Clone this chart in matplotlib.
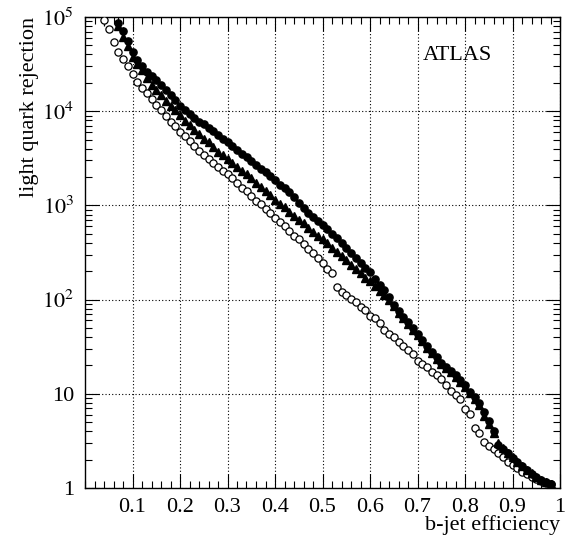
import matplotlib
matplotlib.use("Agg")
import numpy as np
import matplotlib.pyplot as plt
from matplotlib.ticker import FixedLocator, FixedFormatter, LogLocator, MultipleLocator, NullFormatter

plt.rcParams["font.family"] = ["Liberation Serif", "DejaVu Serif"]
plt.rcParams["mathtext.fontset"] = "stix"

# b-jet efficiency of each working point
eff_open = [0.04, 0.05, 0.06, 0.07, 0.08, 0.09, 0.10, 0.11, 0.12, 0.13, 0.14, 0.15, 0.16, 0.17,
            0.18, 0.19, 0.20, 0.21, 0.22, 0.23, 0.24, 0.25, 0.26, 0.27, 0.28, 0.29, 0.30, 0.31,
            0.32, 0.33, 0.34, 0.35, 0.36, 0.37, 0.38, 0.39, 0.40, 0.41, 0.42, 0.43, 0.44, 0.45,
            0.46, 0.47, 0.48, 0.49, 0.50, 0.51, 0.52, 0.53, 0.54, 0.55, 0.56, 0.57, 0.58, 0.59,
            0.60, 0.61, 0.62, 0.63, 0.64, 0.65, 0.66, 0.67, 0.68, 0.69, 0.70, 0.71, 0.72, 0.73,
            0.74, 0.75, 0.76, 0.77, 0.78, 0.79, 0.80, 0.81, 0.82, 0.83, 0.84, 0.85, 0.86, 0.87,
            0.88, 0.89, 0.90, 0.91, 0.92, 0.93, 0.94, 0.95, 0.96, 0.97, 0.98]
eff_fill = [0.07, 0.08, 0.09, 0.10, 0.11, 0.12, 0.13, 0.14, 0.15, 0.16, 0.17,
            0.18, 0.19, 0.20, 0.21, 0.22, 0.23, 0.24, 0.25, 0.26, 0.27, 0.28, 0.29, 0.30, 0.31,
            0.32, 0.33, 0.34, 0.35, 0.36, 0.37, 0.38, 0.39, 0.40, 0.41, 0.42, 0.43, 0.44, 0.45,
            0.46, 0.47, 0.48, 0.49, 0.50, 0.51, 0.52, 0.53, 0.54, 0.55, 0.56, 0.57, 0.58, 0.59,
            0.60, 0.61, 0.62, 0.63, 0.64, 0.65, 0.66, 0.67, 0.68, 0.69, 0.70, 0.71, 0.72, 0.73,
            0.74, 0.75, 0.76, 0.77, 0.78, 0.79, 0.80, 0.81, 0.82, 0.83, 0.84, 0.85, 0.86, 0.87,
            0.88, 0.89, 0.90, 0.91, 0.92, 0.93, 0.94, 0.95, 0.96, 0.97, 0.98]

# log10 of the light quark rejection for each tagger
log_rej_open = [4.97, 4.87, 4.73, 4.63, 4.55, 4.48, 4.40, 4.31, 4.25, 4.19, 4.13, 4.07, 4.01, 3.95,
                3.89, 3.84, 3.78, 3.74, 3.68, 3.63, 3.58, 3.54, 3.49, 3.45, 3.41, 3.37, 3.33, 3.29,
                3.24, 3.19, 3.15, 3.10, 3.05, 3.01, 2.96, 2.92, 2.87, 2.82, 2.78, 2.73, 2.68, 2.64,
                2.59, 2.54, 2.49, 2.44, 2.39, 2.33, 2.28, 2.13, 2.08, 2.05, 2.01, 1.97, 1.92, 1.89,
                1.83, 1.80, 1.75, 1.68, 1.64, 1.60, 1.55, 1.51, 1.465, 1.42, 1.35, 1.315, 1.285, 1.235,
                1.20, 1.16, 1.09, 1.03, 0.99, 0.94, 0.835, 0.785, 0.635, 0.58, 0.49, 0.445, 0.41, 0.37,
                0.325, 0.28, 0.245, 0.21, 0.175, 0.145, 0.12, 0.10, 0.075, 0.055, 0.04]
log_rej_tri = [4.90, 4.79, 4.69, 4.58, 4.50, 4.44, 4.35, 4.28, 4.22, 4.17, 4.11,
               4.06, 4.01, 3.96, 3.90, 3.85, 3.80, 3.76, 3.71, 3.67, 3.62, 3.57, 3.53, 3.49, 3.45,
               3.41, 3.37, 3.33, 3.29, 3.24, 3.20, 3.15, 3.11, 3.06, 3.02, 2.98, 2.93, 2.89, 2.85,
               2.81, 2.76, 2.72, 2.68, 2.64, 2.60, 2.55, 2.51, 2.46, 2.42, 2.37, 2.32, 2.28, 2.23,
               2.20, 2.14, 2.09, 2.05, 2.00, 1.93, 1.86, 1.80, 1.74, 1.68, 1.62, 1.56, 1.49, 1.43,
               1.37, 1.32, 1.27, 1.23, 1.18, 1.13, 1.07, 1.01, 0.95, 0.88, 0.76, 0.68, 0.58, 0.48,
               0.42, 0.37, 0.33, 0.28, 0.23, 0.19, 0.155, 0.12, 0.09, 0.065, 0.04]
log_rej_circ = [4.94, 4.855, 4.74, 4.63, 4.54, 4.48, 4.42, 4.37, 4.33, 4.28, 4.22,
                4.17, 4.12, 4.06, 4.01, 3.97, 3.93, 3.89, 3.86, 3.82, 3.79, 3.75, 3.71, 3.67, 3.63,
                3.59, 3.55, 3.51, 3.47, 3.43, 3.39, 3.35, 3.31, 3.27, 3.22, 3.18, 3.14, 3.09, 3.03,
                2.97, 2.92, 2.88, 2.83, 2.79, 2.75, 2.70, 2.65, 2.60, 2.55, 2.50, 2.44, 2.39, 2.34,
                2.29, 2.22, 2.16, 2.10, 2.03, 1.94, 1.88, 1.82, 1.76, 1.70, 1.64, 1.57, 1.51, 1.44,
                1.39, 1.33, 1.28, 1.24, 1.20, 1.15, 1.09, 1.02, 0.97, 0.90, 0.81, 0.71, 0.60, 0.46,
                0.41, 0.37, 0.32, 0.28, 0.23, 0.19, 0.15, 0.12, 0.09, 0.06, 0.04]

# statistical uncertainty (log10 units) on the first, highest-rejection points
err_open = [0.07, 0.03]
err_tri = [0.03, 0.05, 0.04, 0.03]
err_circ = [0.06, 0.04, 0.03]

x_ticks = [0.1, 0.2, 0.3, 0.4, 0.5, 0.6, 0.7, 0.8, 0.9, 1.0]
x_labels = ["0.1", "0.2", "0.3", "0.4", "0.5", "0.6", "0.7", "0.8", "0.9", "1"]
y_ticks = [1, 10, 1e2, 1e3, 1e4, 1e5]
y_labels = ["1", "10", r"$10^2$", r"$10^3$", r"$10^4$", r"$10^5$"]

rej_open = 10 ** np.array(log_rej_open)
rej_tri = 10 ** np.array(log_rej_tri)
rej_circ = 10 ** np.array(log_rej_circ)

W, H = 572, 544
fig = plt.figure(figsize=(W / 100, H / 100), dpi=100)
ax = fig.add_axes([85 / W, 56 / H, 475 / W, 471 / H])
ax.set_yscale("log")
ax.set_xlim(0, 1)
ax.set_ylim(1, 1e5)


def draw_errors(eff, logv, errs):
    for i, e in enumerate(errs):
        ax.vlines(eff[i], 10 ** (logv[i] - e), 10 ** (logv[i] + e), color="black", lw=0.9, zorder=3)


draw_errors(eff_open, log_rej_open, err_open)
draw_errors(eff_fill, log_rej_tri, err_tri)
draw_errors(eff_fill, log_rej_circ, err_circ)

ax.plot(eff_open, rej_open, "o", mfc="white", mec="black", ms=5.2, mew=0.9, ls="none", zorder=4)
ax.plot(eff_fill, rej_tri, "^", color="black", ms=5.2, ls="none", zorder=4)
ax.plot(eff_fill, rej_circ, "o", color="black", ms=5.2, ls="none", zorder=5)

ax.xaxis.set_major_locator(FixedLocator(x_ticks))
ax.xaxis.set_major_formatter(FixedFormatter(x_labels))
ax.xaxis.set_minor_locator(MultipleLocator(0.02))
ax.yaxis.set_major_locator(FixedLocator(y_ticks))
ax.yaxis.set_major_formatter(FixedFormatter(y_labels))
ax.yaxis.set_minor_locator(LogLocator(base=10, subs=np.arange(2, 10)))
ax.yaxis.set_minor_formatter(NullFormatter())

ax.tick_params(which="both", direction="in", top=True, right=True, width=0.8, labelsize=16)
ax.tick_params(which="major", length=10)
ax.tick_params(which="minor", length=5)
ax.tick_params(axis="x", which="major", pad=7)
ax.tick_params(axis="y", which="major", pad=8)

ax.grid(True, which="major", color="black", linestyle=(0, (1, 2)), linewidth=0.8)
ax.set_axisbelow(True)
for s in ax.spines.values():
    s.set_linewidth(1.0)

fig.text(560 / W, 1 - 525 / H, "b-jet efficiency", ha="right", va="center", fontsize=16)
fig.text(30 / W, 1 - 17 / H, "light quark rejection", ha="center", va="top", rotation=90, fontsize=16)
fig.text(423 / W, 1 - 55 / H, "ATLAS", ha="left", va="center", fontsize=16)

fig.savefig("out.png", dpi=100)
